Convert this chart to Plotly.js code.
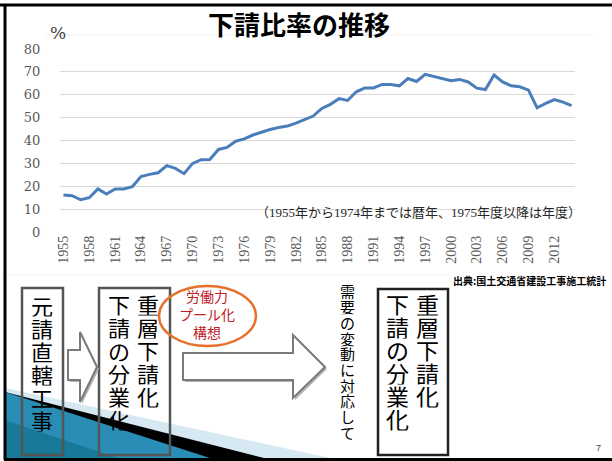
<!DOCTYPE html>
<html>
<head>
<meta charset="utf-8">
<script src="https://cdn.plot.ly/plotly-3.0.1.min.js"></script>
<style>html,body{margin:0;padding:0;background:#fff;}#chart{width:612px;height:461px;}</style>
</head>
<body>
<div id="chart"></div>
<script>
// ---- data ----
const years = [1955,1956,1957,1958,1959,1960,1961,1962,1963,1964,
               1965,1966,1967,1968,1969,1970,1971,1972,1973,1974,
               1975,1976,1977,1978,1979,1980,1981,1982,1983,1984,
               1985,1986,1987,1988,1989,1990,1991,1992,1993,1994,
               1995,1996,1997,1998,1999,2000,2001,2002,2003,2004,
               2005,2006,2007,2008,2009,2010,2011,2012,2013,2014];
const subcontractRatio = [16.2,15.9,14.1,15.0,18.8,16.6,18.8,18.8,19.8,24.2,
                          25.2,25.9,29.0,27.8,25.5,30.0,31.6,31.7,36.1,37.0,
                          39.7,40.7,42.4,43.7,44.8,45.7,46.3,47.6,49.2,50.7,
                          54.0,55.8,58.3,57.5,61.3,63.0,63.0,64.5,64.5,63.9,
                          67.1,65.8,68.9,68.0,67.2,66.1,66.7,65.6,62.9,62.3,
                          68.6,65.6,63.9,63.5,62.0,54.3,56.2,57.9,56.8,55.2];
const xTickYears = [1955,1958,1961,1964,1967,1970,1973,1976,1979,1982,
                    1985,1988,1991,1994,1997,2000,2003,2006,2009,2012];
const yTicks = [0,10,20,30,40,50,60,70,80];

const titleText = "下請比率の推移";
const unitText = "%";
const noteText = "（1955年から1974年までは暦年、1975年度以降は年度）";
const sourceText = "出典:国土交通省建設工事施工統計";
const box1Text = "元請直轄工事";
const box2Right = "重層下請化";
const box2Left = "下請の分業化";
const ellipseText = "労働力<br>プール化<br>構想";
const midText = "需要の変動に対応して";
const box3Right = "重層下請化";
const box3Left = "下請の分業化";
const pageNo = "7";

// ---- helpers (pixel -> paper) ----
const W = 612, H = 461;
const X = p => p / W;
const Y = p => 1 - p / H;
function path(pts){ return pts.map((p,i)=>(i?'L':'M')+X(p[0]).toFixed(5)+','+Y(p[1]).toFixed(5)).join(' ')+' Z'; }
function vtext(str, x, y0, pitch, size, color, family){
  return Array.from(str).map((c,i)=>({
    xref:'paper', yref:'paper', x:X(x), y:Y(y0+i*pitch), text:c, showarrow:false,
    xanchor:'center', yanchor:'middle', height:pitch - 0.5, width:size + 2, borderpad:0,
    font:{family:family||'Noto Sans CJK JP', size:size, color:color||'#000'}
  }));
}
const sansJP = 'Noto Sans CJK JP';

const trace = {
  x: years, y: subcontractRatio, type:'scatter', mode:'lines',
  line:{color:'#4a7ebb', width:3}, hoverinfo:'skip'
};

const shapes = [
  // faint chart frame lines
  {type:'line', xref:'paper', yref:'paper', x0:X(45), x1:X(593), y0:Y(35), y1:Y(35), line:{color:'#f0f0f0', width:1}},
  {type:'line', xref:'paper', yref:'paper', x0:X(5), x1:X(450), y0:Y(275), y1:Y(275), line:{color:'#f0f0f0', width:1}},
  // decorative swoosh bottom-left
  {type:'path', xref:'paper', yref:'paper', path:path([[5,388],[335,459],[5,459]]), fillcolor:'#d6e9f2', line:{width:0}, layer:'below'},
  {type:'path', xref:'paper', yref:'paper', path:path([[5,392],[268,459],[5,459]]), fillcolor:'#000000', line:{width:0}, layer:'below'},
  {type:'path', xref:'paper', yref:'paper', path:path([[5,392],[213,459],[5,459]]), fillcolor:'#2a8db6', line:{width:0}, layer:'below'},
  {type:'path', xref:'paper', yref:'paper', path:path([[5,420],[120,459],[5,459]]), fillcolor:'#187998', line:{width:0}, layer:'below'},
  // slide border
  {type:'line', xref:'paper', yref:'paper', x0:0, x1:1, y0:Y(5), y1:Y(5), line:{color:'#000', width:3}},
  {type:'line', xref:'paper', yref:'paper', x0:X(5), x1:X(5), y0:Y(4), y1:Y(460), line:{color:'#000', width:3}},
  {type:'line', xref:'paper', yref:'paper', x0:X(4), x1:1, y0:Y(459.5), y1:Y(459.5), line:{color:'#000', width:3}},
  // boxes
  {type:'rect', xref:'paper', yref:'paper', x0:X(22), x1:X(63), y0:Y(288), y1:Y(455), line:{color:'#555555', width:2.5}},
  {type:'rect', xref:'paper', yref:'paper', x0:X(99), x1:X(170), y0:Y(288), y1:Y(455), line:{color:'#555555', width:2.5}},
  {type:'rect', xref:'paper', yref:'paper', x0:X(378), x1:X(448), y0:Y(289), y1:Y(455), line:{color:'#222222', width:2.5}},
  // small arrow (shadow + body)
  {type:'path', xref:'paper', yref:'paper', path:path([[70,352],[82,352],[82,334],[99,369],[82,404],[82,382],[70,382]]), fillcolor:'#b0b0b0', line:{width:0}},
  {type:'path', xref:'paper', yref:'paper', path:path([[68,350],[80,350],[80,332],[97,367],[80,402],[80,380],[68,380]]), fillcolor:'#ffffff', line:{color:'#7a7a7a', width:2}},
  // big arrow (shadow + body)
  {type:'path', xref:'paper', yref:'paper', path:path([[185,355],[295,355],[295,337],[327,369],[295,400],[295,382],[185,382]]), fillcolor:'#b0b0b0', line:{width:0}},
  {type:'path', xref:'paper', yref:'paper', path:path([[183,353],[293,353],[293,335],[325,367],[293,398],[293,380],[183,380]]), fillcolor:'#ffffff', line:{color:'#7a7a7a', width:2}},
  // ellipse
  {type:'circle', xref:'paper', yref:'paper', x0:X(159), x1:X(256), y0:Y(286), y1:Y(346), line:{color:'#e8712a', width:2.5}, fillcolor:'rgba(255,255,255,0)'}
];

let annotations = [
  {xref:'paper', yref:'paper', x:X(299), y:Y(24), text:'<b>'+titleText+'</b>', showarrow:false, xanchor:'center', yanchor:'middle',
   font:{family:sansJP, size:26, color:'#000'}},
  {xref:'paper', yref:'paper', x:X(58), y:Y(33), text:unitText, showarrow:false, xanchor:'center', yanchor:'middle',
   font:{family:'DejaVu Serif', size:17, color:'#404040'}},
  {xref:'paper', yref:'paper', x:X(583), y:Y(212), text:noteText, showarrow:false, xanchor:'right', yanchor:'middle',
   font:{family:'Liberation Serif, '+sansJP, size:13, color:'#262626'}},
  {xref:'paper', yref:'paper', x:X(608), y:Y(280), text:'<b>'+sourceText+'</b>', showarrow:false, xanchor:'right', yanchor:'middle',
   font:{family:sansJP, size:10, color:'#000'}},
  {xref:'paper', yref:'paper', x:X(207), y:Y(314), text:ellipseText, showarrow:false, xanchor:'center', yanchor:'middle',
   font:{family:sansJP, size:14, color:'#c0202a'}},
  {xref:'paper', yref:'paper', x:X(598), y:Y(448), text:pageNo, showarrow:false, xanchor:'center', yanchor:'middle',
   font:{family:'Liberation Sans', size:9, color:'#404040'}}
];
annotations = annotations
  .concat(vtext(box1Text, 42, 305, 23, 22))
  .concat(vtext(box2Right, 148, 304, 23, 22))
  .concat(vtext(box2Left, 119, 304, 23, 22))
  .concat(vtext(midText, 347, 291, 15.7, 15))
  .concat(vtext(box3Right, 427, 304, 23, 23))
  .concat(vtext(box3Left, 397, 304, 23, 23));

const layout = {
  width: W, height: H,
  margin:{l:0, r:0, t:0, b:0},
  paper_bgcolor:'#ffffff', plot_bgcolor:'#ffffff',
  showlegend:false,
  xaxis:{
    domain:[X(60), X(575)], range:[1954.6, 2014.4],
    tickmode:'array', tickvals:xTickYears, ticktext:xTickYears.map(String),
    tickangle:-90, ticks:'', showgrid:false, zeroline:false, showline:false,
    tickfont:{family:'Liberation Serif', size:14, color:'#595959'}
  },
  yaxis:{
    domain:[Y(232), Y(49)], range:[0,80],
    tickmode:'array', tickvals:yTicks, ticktext:yTicks.map(String),
    showgrid:true, gridcolor:'#d9d9d9', gridwidth:1, zeroline:false, showline:false,
    ticks:'outside', ticklen:16, tickcolor:'rgba(255,255,255,0)',
    tickfont:{family:'DejaVu Serif', size:13, color:'#595959'}
  },
  shapes: shapes,
  annotations: annotations
};

Plotly.newPlot('chart', [trace], layout, {staticPlot:true, displayModeBar:false});
</script>
</body>
</html>
